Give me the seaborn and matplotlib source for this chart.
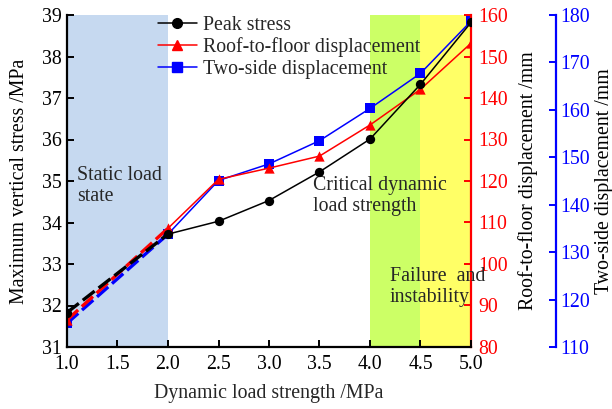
import numpy as np
import pandas as pd
import matplotlib
matplotlib.use("Agg")
import matplotlib.pyplot as plt
import seaborn as sns
from matplotlib.lines import Line2D

sns.set_theme(style="white")
plt.rcParams['font.family'] = ['Liberation Serif', 'DejaVu Serif']

# ---- data ----
load_strength = [1.0, 2.0, 2.5, 3.0, 3.5, 4.0, 4.5, 5.0]
peak_stress = [31.83, 33.72, 34.03, 34.53, 35.22, 36.01, 37.33, 38.82]
roof_floor_disp = [86.5, 108.6, 120.4, 123.1, 126.0, 133.5, 142.1, 153.2]
two_side_disp = [115.0, 133.8, 145.1, 148.6, 153.5, 160.3, 167.7, 178.7]
x_ticks = [1.0, 1.5, 2.0, 2.5, 3.0, 3.5, 4.0, 4.5, 5.0]
series_labels = ["Peak stress", "Roof-to-floor displacement", "Two-side displacement"]

df = pd.DataFrame({"x": load_strength, "stress": peak_stress,
                   "rf": roof_floor_disp, "ts": two_side_disp})
df_dash = df.iloc[:2]
df_solid = df.iloc[1:]

FS = 14.3
fig = plt.figure(figsize=(6.12, 4.09), dpi=100)
ax1 = fig.add_axes([67/612, 1-347/409, (471-67)/612, (347-15)/409])
ax2 = ax1.twinx()
ax3 = ax1.twinx()
ax3.spines["right"].set_position(("axes", (556-471)/(471-67) + 1.0))

# stacking: ax3 (spans + blue) at bottom, ax2 red, ax1 black on top
ax3.set_zorder(1)
ax2.set_zorder(2)
ax1.set_zorder(3)
ax1.patch.set_visible(False)
ax2.patch.set_visible(False)

# background regions
ax3.axvspan(1.0, 2.0, color="#c6d9f0", lw=0, zorder=0)
ax3.axvspan(4.0, 4.5, color="#ccff66", lw=0, zorder=0)
ax3.axvspan(4.5, 5.0, color="#ffff66", lw=0, zorder=0)

def draw(ax, col, color, marker, ms):
    sns.lineplot(data=df_dash, x="x", y=col, ax=ax, color=color, lw=2.4,
                 linestyle=(0, (4.5, 1.5)), marker=None)
    sns.lineplot(data=df_solid, x="x", y=col, ax=ax, color=color, lw=1.1,
                 marker=None)
    sns.scatterplot(data=df, x="x", y=col, ax=ax, color=color, marker=marker,
                    s=ms, edgecolor=color, linewidth=0, zorder=5)

draw(ax3, "ts", "#0000ff", "s", 48)
draw(ax2, "rf", "#ff0000", "^", 55)
draw(ax1, "stress", "#000000", "o", 45)

# axes limits
ax1.set_xlim(1.0, 5.0)
ax1.set_ylim(31, 39)
ax2.set_ylim(80, 160)
ax3.set_ylim(110, 180)

ax1.set_xticks(x_ticks)
ax1.set_xticklabels([f"{v:.1f}" for v in x_ticks])
ax1.set_yticks(range(31, 40))
ax1.set_yticklabels([str(v) for v in range(31, 40)])
ax2.set_yticks(range(80, 161, 10))
ax2.set_yticklabels([str(v) for v in range(80, 161, 10)])
ax3.set_yticks(range(110, 181, 10))
ax3.set_yticklabels([str(v) for v in range(110, 181, 10)])

ax1.set_xlabel("Dynamic load strength /MPa", fontsize=FS, labelpad=7)
ax1.set_ylabel("Maximum vertical stress /MPa", fontsize=FS)
ax2.set_ylabel("Roof-to-floor displacement /mm", fontsize=FS)
ax3.set_ylabel("Two-side displacement /mm", fontsize=FS)
ax3.set_xlabel("")
ax2.set_xlabel("")
for ax, xc in ((ax1, (20-67)/404), (ax2, (528-67)/404), (ax3, (604-67)/404)):
    ax.yaxis.set_label_coords(xc, 0.5)
    ax.yaxis.label.set_verticalalignment("center")
    ax.yaxis.label.set_color("black")

# spines
for ax in (ax1, ax2, ax3):
    for s in ax.spines.values():
        s.set_visible(False)
for side in ("left", "bottom"):
    ax1.spines[side].set_visible(True)
    ax1.spines[side].set_color("black")
    ax1.spines[side].set_linewidth(1.6)
ax2.spines["right"].set_visible(True)
ax2.spines["right"].set_color("#ff0000")
ax2.spines["right"].set_linewidth(1.6)
ax3.spines["right"].set_visible(True)
ax3.spines["right"].set_color("#0000ff")
ax3.spines["right"].set_linewidth(1.6)

ax1.tick_params(axis="both", direction="in", length=5, width=1.4, colors="black",
                left=True, bottom=True, labelsize=FS)
ax1.tick_params(axis="x", pad=6)
ax1.tick_params(axis="y", pad=4)
ax2.tick_params(axis="y", direction="in", length=5, width=1.4, colors="#ff0000",
                right=True, pad=5, labelsize=FS)
ax3.tick_params(axis="y", direction="in", length=5, width=1.4, colors="#0000ff",
                right=True, pad=3, labelsize=FS)
ax2.tick_params(axis="x", bottom=False, labelbottom=False)
ax3.tick_params(axis="x", bottom=False, labelbottom=False)

# annotations
ax1.text(1.096, 34.87, "Static load\nstate", fontsize=FS, va="center", ha="left",
         linespacing=1.15)
ax1.text(3.436, 34.63, "Critical dynamic\nload strength", fontsize=FS, va="center",
         ha="left", linespacing=1.15)
ax1.text(4.195, 32.45, "Failure  and\ninstability", fontsize=FS, va="center",
         ha="left", linespacing=1.15)

handles = [
    Line2D([], [], color="black", marker="o", lw=1.1, ms=7),
    Line2D([], [], color="#ff0000", marker="^", lw=1.1, ms=7.5),
    Line2D([], [], color="#0000ff", marker="s", lw=1.1, ms=6.5),
]
leg = ax1.legend(handles, series_labels, loc="upper left",
                 bbox_to_anchor=(158/612, 1-16/409), bbox_transform=fig.transFigure,
                 frameon=False, fontsize=FS, handlelength=1.95, handletextpad=0.3,
                 labelspacing=0.12, borderaxespad=0, borderpad=0)

fig.savefig("out.png", dpi=100)
